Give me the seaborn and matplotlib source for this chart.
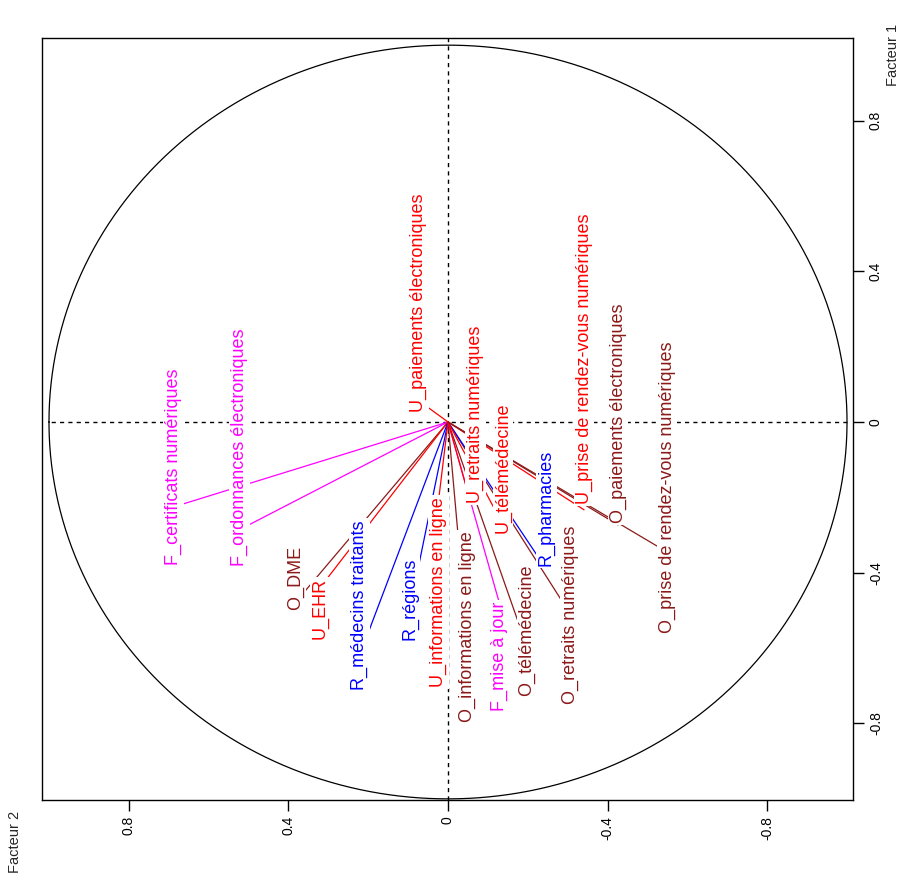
import numpy as np
import pandas as pd
import matplotlib
matplotlib.use("Agg")
import matplotlib.pyplot as plt
import seaborn as sns

# variables of the correlation circle (Facteur 1 = vertical, Facteur 2 = horizontal, reversed)
labels = [
    "F_certificats numériques", "F_ordonnances électroniques", "O_DME", "U_EHR",
    "R_médecins traitants", "R_régions", "U_informations en ligne",
    "O_informations en ligne", "F_mise à jour", "O_télémédecine",
    "O_retraits numériques", "R_pharmacies", "U_retraits numériques",
    "U_télémédecine", "U_prise de rendez-vous numériques",
    "O_paiements électroniques", "O_prise de rendez-vous numériques",
    "U_paiements électroniques",
]
groups = ["F", "F", "O", "U", "R", "R", "U", "O", "F", "O", "O", "R", "U", "U", "U", "O", "O", "U"]

# end of each vector
f1 = [-0.225, -0.286, -0.477, -0.440, -0.618, -0.493, -0.220, -0.393, -0.485,
      -0.597, -0.509, -0.366, -0.207, -0.273, -0.233, -0.273, -0.345, 0.058]
f2 = [0.687, 0.523, 0.381, 0.321, 0.221, 0.095, 0.025, -0.033, -0.130,
      -0.198, -0.306, -0.231, -0.055, -0.138, -0.341, -0.426, -0.549, 0.075]

# where the label of each vector sits
lab_f1 = [-0.119, -0.068, -0.415, -0.496, -0.485, -0.469, -0.451, -0.544, -0.622,
          -0.552, -0.511, -0.229, 0.020, -0.121, 0.168, 0.024, -0.174, 0.317]
lab_f2 = [0.687, 0.523, 0.381, 0.321, 0.221, 0.095, 0.024, -0.048, -0.128,
          -0.198, -0.306, -0.246, -0.068, -0.138, -0.341, -0.426, -0.549, 0.074]

ticks = [-0.8, -0.4, 0, 0.4, 0.8]
tick_labels = ["-0.8", "-0.4", "0", "0.4", "0.8"]

palette = {"F": "#ff00ff", "U": "#ff0000", "R": "#0000ff", "O": "#8b1a1a"}

sns.set_style("white")
plt.rcParams["font.family"] = ["Liberation Sans", "DejaVu Sans"]

fig = plt.figure(figsize=(9.07, 8.85), dpi=100)
ax = fig.add_axes([42 / 907, 1 - 800 / 885, 811 / 907, 762 / 885])

# unit circle
theta = np.linspace(0, 2 * np.pi, 500)
circle = pd.DataFrame({"f2": np.cos(theta), "f1": np.sin(theta)})
sns.lineplot(data=circle, x="f2", y="f1", sort=False, estimator=None,
             color="black", lw=0.9, ax=ax, zorder=2)

# dashed axes
ax.axvline(0, color="black", ls=(0, (3, 3)), lw=1, zorder=1)
ax.hlines(0, -1, 1, color="black", ls=(0, (3, 3)), lw=1, zorder=1)

# vectors
for g, y, x in zip(groups, f1, f2):
    ax.plot([0, x], [0, y], color=palette[g], lw=0.9, zorder=3)

# labels with white background (they hide the lines below them)
for lab, g, y, x in zip(labels, groups, lab_f1, lab_f2):
    ax.text(x, y, lab, rotation=90, ha="center", va="center", color=palette[g],
            fontsize=13, zorder=5,
            bbox=dict(boxstyle="square,pad=0.1", fc="white", ec="none"))

ax.set_xlim(1.0175, -1.015)
ax.set_ylim(-1.003, 1.019)
ax.set_xlabel("")
ax.set_ylabel("")

ax.yaxis.tick_right()
ax.set_xticks(ticks)
ax.set_xticklabels(tick_labels, rotation=90)
ax.set_yticks(ticks)
ax.set_yticklabels(tick_labels, rotation=90, va="center")
ax.tick_params(axis="both", direction="out", length=8, width=1, labelsize=10,
               colors="black", bottom=True, right=True, left=False, top=False)

for s in ax.spines.values():
    s.set_visible(True)
    s.set_color("black")
    s.set_linewidth(1)

fig.text(893 / 907, 1 - 55 / 885, "Facteur 1", rotation=90, ha="center", va="center", fontsize=10.5)
fig.text(15 / 907, 1 - 842 / 885, "Facteur 2", rotation=90, ha="center", va="center", fontsize=10.5)

fig.savefig("out.png", dpi=100, facecolor="white")
